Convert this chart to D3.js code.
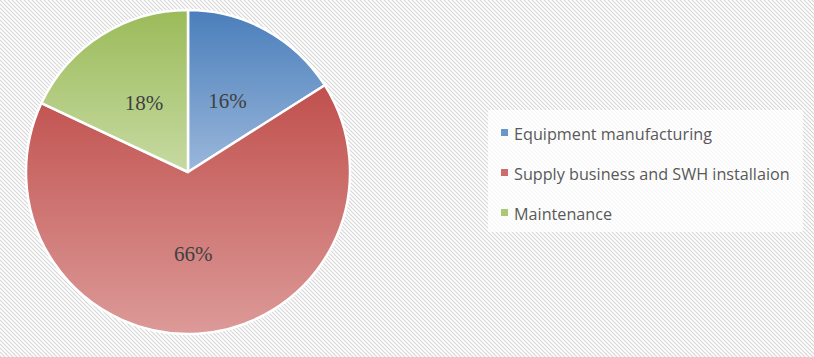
<!DOCTYPE html>
<html>
<head>
<meta charset="utf-8">
<script src="https://cdn.jsdelivr.net/npm/d3@7"></script>
<style>
  body { margin: 0; background: #fff; }
  svg { display: block; }
</style>
</head>
<body>
<div class="chart"></div>
<script>
const categories = ['Equipment manufacturing', 'Supply business and SWH installaion', 'Maintenance'];
const shares = [16, 66, 18];
const topColors = ['#4a7ebb', '#c0504d', '#9bbb59'];
const bottomColors = ['#9ab7db', '#dc9a98', '#c6daa2'];

const width = 814, height = 357;
const cx = 188, cy = 172, radius = 162;

const svg = d3.select('.chart').append('svg')
    .attr('width', width)
    .attr('height', height);

const defs = svg.append('defs');

// diagonal hatch background
const hatch = defs.append('pattern')
    .attr('id', 'hatch')
    .attr('patternUnits', 'userSpaceOnUse')
    .attr('width', 4)
    .attr('height', 4);
hatch.append('rect').attr('width', 4).attr('height', 4).attr('fill', '#fff');
hatch.append('path')
    .attr('d', 'M-1,3 l2,2 M0,0 l4,4 M3,-1 l2,2')
    .attr('stroke', '#d6d6d6')
    .attr('stroke-width', 1.1);

svg.append('rect')
    .attr('width', width)
    .attr('height', height)
    .attr('fill', 'url(#hatch)');

categories.forEach((c, i) => {
  const g = defs.append('linearGradient')
      .attr('id', 'grad' + i)
      .attr('x1', 0).attr('y1', 0).attr('x2', 0).attr('y2', 1);
  g.append('stop').attr('offset', '0%').attr('stop-color', topColors[i]);
  g.append('stop').attr('offset', '100%').attr('stop-color', bottomColors[i]);
});

const pie = d3.pie().sort(null).value(d => d.value);
const arcs = pie(categories.map((c, i) => ({name: c, value: shares[i], i: i})));

const arc = d3.arc().innerRadius(0).outerRadius(radius);
const labelArc = d3.arc().innerRadius(82).outerRadius(82);

const pieG = svg.append('g')
    .attr('transform', `translate(${cx},${cy})`);

pieG.selectAll('path')
    .data(arcs)
    .enter()
    .append('path')
    .attr('d', arc)
    .attr('fill', d => `url(#grad${d.data.i})`)
    .attr('stroke', '#fff')
    .attr('stroke-width', 2.5)
    .attr('stroke-linejoin', 'round');

pieG.selectAll('.lbl')
    .data(arcs)
    .enter()
    .append('text')
    .attr('class', 'lbl')
    .attr('transform', d => `translate(${labelArc.centroid(d)})`)
    .attr('text-anchor', 'middle')
    .attr('dy', '0.35em')
    .attr('font-family', '"Liberation Serif", "Times New Roman", serif')
    .attr('font-size', '21px')
    .attr('fill', '#404040')
    .text(d => d.data.value + '%');

// legend
const legend = svg.append('g');
legend.append('rect')
    .attr('x', 488)
    .attr('y', 110)
    .attr('width', 315)
    .attr('height', 122)
    .attr('fill', '#fff')
    .attr('opacity', 0.8);

legend.selectAll('.key')
    .data(categories)
    .enter()
    .append('rect')
    .attr('x', 501)
    .attr('y', (d, i) => 129 + i * 40)
    .attr('width', 7)
    .attr('height', 7)
    .attr('fill', (d, i) => d3.interpolateRgb(topColors[i], bottomColors[i])(0.4));

legend.selectAll('.ltext')
    .data(categories)
    .enter()
    .append('text')
    .attr('x', 514)
    .attr('y', (d, i) => 140 + i * 40)
    .attr('font-family', '"Open Sans", sans-serif')
    .attr('font-size', '16.2px')
    .attr('fill', '#595959')
    .text(d => d);
</script>
</body>
</html>
